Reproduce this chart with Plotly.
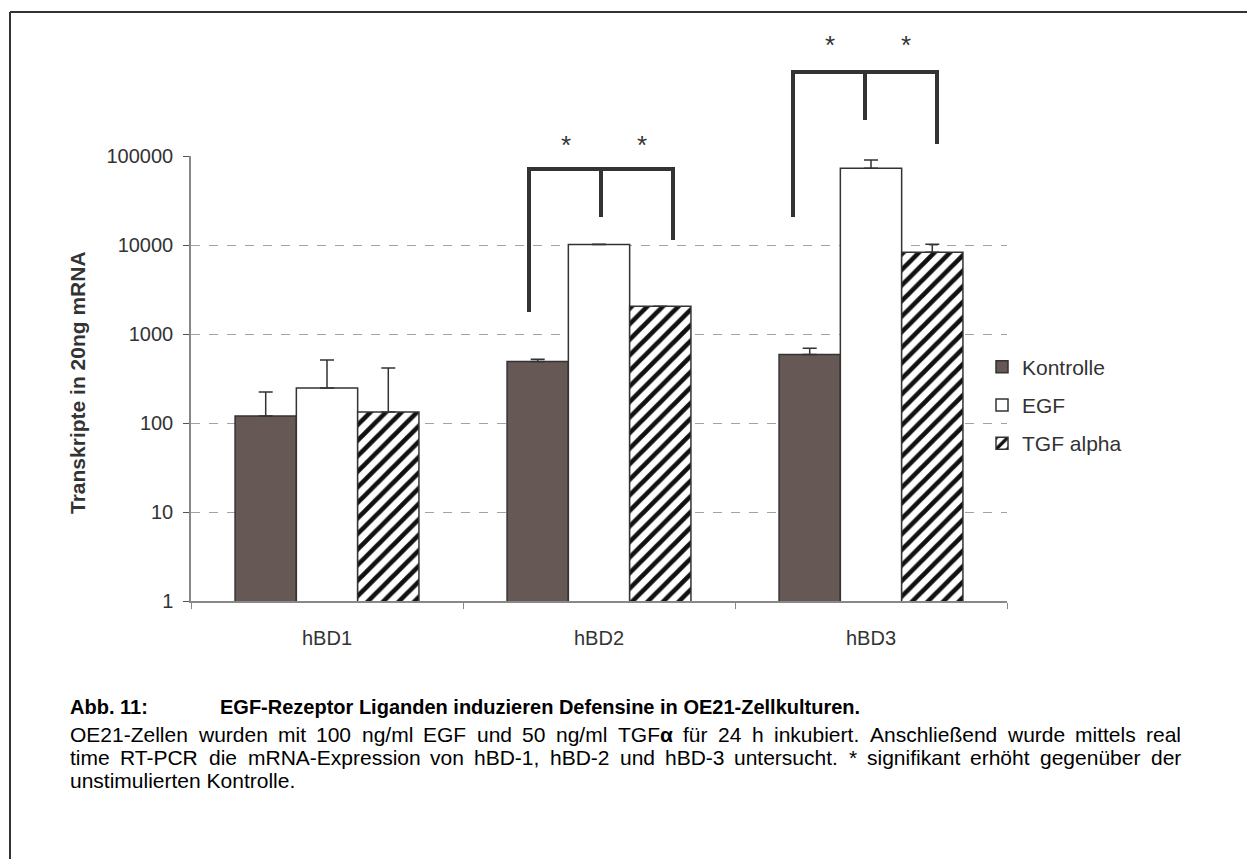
import plotly.graph_objects as go

# ---------------- data ----------------
categories = ["hBD1", "hBD2", "hBD3"]
series_names = ["Kontrolle", "EGF", "TGF alpha"]
kontrolle = [120, 490, 590]
kontrolle_err = [103, 30, 100]
egf = [247, 10100, 73000]
egf_err = [263, 100, 17000]
tgf = [133, 2050, 8300]
tgf_err = [281, 0, 1900]
y_tickvals = [1, 10, 100, 1000, 10000, 100000]
y_ticktext = ["1", "10", "100", "1000", "10000", "100000"]

caption_head = "Abb. 11:"
caption_title = "EGF-Rezeptor Liganden induzieren Defensine in OE21-Zellkulturen."
caption_lines = [
    "OE21-Zellen wurden mit 100 ng/ml EGF und 50 ng/ml TGFα für 24 h inkubiert. Anschließend wurde mittels real",
    "time RT-PCR die mRNA-Expression von hBD-1, hBD-2 und hBD-3 untersucht. * signifikant erhöht gegenüber der",
    "unstimulierten Kontrolle.",
]

# ---------------- layout geometry ----------------
W, H = 1247, 859
L, R, T, B = 191, 1007, 156, 601


def px(x):
    return (x - L) / (R - L)


def py(y):
    return (B - y) / (B - T)


FONT = "Arial, Liberation Sans, sans-serif"
DARK = "#333333"

# approximate Arial (Liberation Sans) advance widths, 1/1000 em, for text justification
_AW = {" ": 278, "-": 333, ".": 278, ",": 278, ":": 278, "/": 278, "*": 389, "α": 600,
       "ß": 611, "ü": 556, "ö": 556, "ä": 556}
for ch in "0123456789":
    _AW[ch] = 556
_AW.update(dict(zip("ABCDEFGHIJKLMNOPQRSTUVWXYZ",
                    [667, 667, 722, 722, 667, 611, 778, 722, 278, 500, 667, 556, 833,
                     722, 778, 667, 778, 722, 667, 611, 722, 667, 944, 667, 667, 611])))
_AW.update(dict(zip("abcdefghijklmnopqrstuvwxyz",
                    [556, 556, 500, 556, 556, 278, 556, 556, 222, 222, 500, 222, 833,
                     556, 556, 556, 556, 333, 500, 278, 556, 500, 722, 500, 500, 500])))


def text_w(s, size):
    return sum(_AW.get(c, 556) for c in s) * size / 1000.0


fig = go.Figure()

err_style = dict(type="data", symmetric=False, color=DARK, thickness=1.5, width=7)
fig.add_trace(go.Bar(
    x=categories, y=kontrolle, name=series_names[0], legendgroup="a",
    marker=dict(color="#665955", line=dict(color=DARK, width=1.5)),
    error_y=dict(array=kontrolle_err, arrayminus=[0] * 3, **err_style),
))
fig.add_trace(go.Bar(
    x=categories, y=egf, name=series_names[1], legendgroup="b",
    marker=dict(color="white", line=dict(color=DARK, width=1.5)),
    error_y=dict(array=egf_err, arrayminus=[0] * 3, **err_style),
))
fig.add_trace(go.Bar(
    x=categories, y=tgf, name=series_names[2], legendgroup="c",
    marker=dict(color="white", line=dict(color=DARK, width=1.5),
                pattern=dict(shape="/", fgcolor="#111111", bgcolor="white",
                             fgopacity=1, size=11, solidity=0.42)),
    error_y=dict(array=tgf_err, arrayminus=[0] * 3, **err_style),
))

shapes = []
annotations = []

# significance brackets (pixel positions -> paper)
brackets = [
    # left x, left bottom, mid x, mid bottom, right x, right bottom, top y, star xs, star y
    (529, 312, 601, 217, 673, 240, 169, (566, 642), 145),
    (793, 217, 865, 120, 937, 144, 72, (830, 906), 45),
]
for lx, lb, mx, mb, rx, rb, ty, stars, sy in brackets:
    path = (f"M {px(lx)},{py(lb)} L {px(lx)},{py(ty)} L {px(rx)},{py(ty)} L {px(rx)},{py(rb)} "
            f"M {px(mx)},{py(ty)} L {px(mx)},{py(mb)}")
    shapes.append(dict(type="path", path=path, xref="paper", yref="paper",
                       line=dict(color=DARK, width=4)))
    for sx in stars:
        annotations.append(dict(text="*", x=px(sx), y=py(sy), xref="paper", yref="paper",
                                showarrow=False, font=dict(family=FONT, size=26, color=DARK),
                                xanchor="center", yanchor="middle"))

# outer frame (top and left edges)
shapes.append(dict(type="line", xref="paper", yref="paper",
                   x0=px(10), y0=py(12), x1=px(W + 5), y1=py(12),
                   line=dict(color=DARK, width=2)))
shapes.append(dict(type="line", xref="paper", yref="paper",
                   x0=px(10), y0=py(12), x1=px(10), y1=py(H + 5),
                   line=dict(color=DARK, width=2)))

# y-axis title
annotations.append(dict(text="<b>Transkripte in 20ng mRNA</b>", x=px(77), y=py(383),
                        xref="paper", yref="paper", showarrow=False, textangle=-90,
                        font=dict(family=FONT, size=21, color=DARK),
                        xanchor="center", yanchor="middle"))

# caption
CAP = 21
HEAD = 20
annotations.append(dict(text=f"<b>{caption_head}</b>", x=px(68), y=py(707), xref="paper", yref="paper",
                        showarrow=False, xanchor="left", yanchor="middle",
                        font=dict(family=FONT, size=HEAD, color="black")))
annotations.append(dict(text=f"<b>{caption_title}</b>", x=px(218), y=py(707), xref="paper", yref="paper",
                        showarrow=False, xanchor="left", yanchor="middle",
                        font=dict(family=FONT, size=HEAD, color="black")))

left_px, right_px = 68, 1179
for i, line in enumerate(caption_lines):
    ypos = py(734 + 23 * i)
    if i == len(caption_lines) - 1:
        annotations.append(dict(text=line, x=px(left_px), y=ypos, xref="paper", yref="paper",
                                showarrow=False, xanchor="left", yanchor="middle",
                                font=dict(family=FONT, size=CAP, color="black")))
        continue
    words = line.split(" ")
    widths = [text_w(w, CAP) for w in words]
    gap = (right_px - left_px - sum(widths)) / (len(words) - 1)
    x = left_px
    for w, wd in zip(words, widths):
        txt = w.replace("α", "<b>α</b>")
        annotations.append(dict(text=txt, x=px(x), y=ypos, xref="paper", yref="paper",
                                showarrow=False, xanchor="left", yanchor="middle",
                                font=dict(family=FONT, size=CAP, color="black")))
        x += wd + gap

fig.update_layout(
    width=W, height=H,
    margin=dict(l=L, r=W - R, t=T, b=H - B, autoexpand=False),
    paper_bgcolor="white", plot_bgcolor="white",
    barmode="group", bargap=0.324, bargroupgap=0,
    font=dict(family=FONT, color=DARK),
    showlegend=True,
    legend=dict(x=px(982), y=py(405), xanchor="left", yanchor="middle",
                font=dict(family=FONT, size=21, color=DARK),
                traceorder="grouped", tracegroupgap=8,
                bgcolor="rgba(0,0,0,0)"),
    shapes=shapes, annotations=annotations,
    xaxis=dict(type="category", showline=True, linecolor="#888888", linewidth=1.5,
               ticks="outside", tickson="boundaries", ticklen=6, tickcolor="#888888",
               tickfont=dict(family=FONT, size=20, color=DARK),
               ticklabelstandoff=18, showgrid=False, zeroline=False),
    yaxis=dict(type="log", range=[0, 5], showline=True, linecolor="#888888", linewidth=1.5,
               ticks="outside", ticklen=6, tickcolor="#555555",
               tickvals=y_tickvals, ticktext=y_ticktext,
               tickfont=dict(family=FONT, size=20, color=DARK), ticklabelstandoff=6,
               showgrid=True, gridcolor="#b09e9b", griddash="dash", gridwidth=1,
               zeroline=False),
)

fig.write_html("out.html", config={"displayModeBar": False},
               post_script="document.body.style.margin='0';")
